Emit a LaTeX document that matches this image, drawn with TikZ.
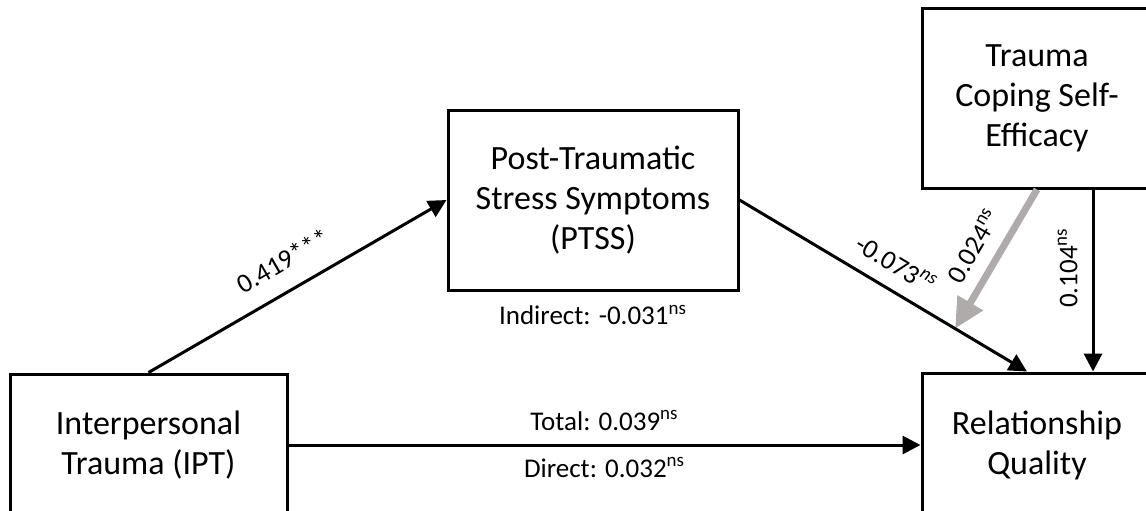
\documentclass[tikz,border=0pt]{standalone}
\usepackage{fontspec}
\setmainfont{Carlito}
\usetikzlibrary{
    positioning,
    arrows.meta
}
\definecolor{modgray}{RGB}{175,171,171}
\tikzset{%
    construct/.style={%
        rectangle,
        draw,
        line width=1.5pt,
        align=center,
        inner sep=2pt,
        font=\fontsize{17pt}{20pt}\selectfont
    },
    path coefficient/.style={%
        font=\fontsize{13.5pt}{16pt}\selectfont,
        inner sep=2pt
    },
    arrow/.style={%
        line width=1.5pt,
        >={Triangle[length=9pt, width=9pt]},
    },
    moderation/.style={%
        line width=3.5pt,
        draw=modgray,
        >={Triangle[length=15pt, width=14pt]},
    },
}

\begin{document}
\begin{tikzpicture}[x=0.5pt, y=-0.5pt]
    \useasboundingbox (0,0) rectangle (1146,510);
    \clip (0,0) rectangle (1146,510);

    \node[construct, minimum width=138.5pt, minimum height=71pt] (IPT) at (148.5,445) {Interpersonal\\Trauma (IPT)};
    \node[construct, minimum width=145pt, minimum height=90pt] (PTSS) at (593,200) {Post-Traumatic\\Stress Symptoms\\(PTSS)};
    \node[construct, minimum width=115pt, minimum height=90pt] (TCSE) at (1037,98) {Trauma\\Coping Self-\\Efficacy};
    \node[construct, minimum width=115pt, minimum height=72pt] (RQ) at (1037,445) {Relationship\\Quality};

    \node[path coefficient, below=4.5pt of PTSS] (indirect) {Indirect: -0.031\textsuperscript{ns}};

    \path (PTSS.east) -- coordinate[pos=0.75] (moderated) ([xshift=-5pt]RQ.north);

    \draw (TCSE.south) edge[moderation, ->] node[path coefficient, sloped, above=4.5pt] {0.024\textsuperscript{ns}} (moderated);

    \draw (IPT.north) edge[arrow, ->] node[path coefficient, sloped, above=7pt] {0.419***} (PTSS.west);
    \draw (PTSS.east) edge[arrow, ->] node[path coefficient, sloped, above=5pt] {-0.073\textsuperscript{\itshape ns}} ([xshift=-5pt]RQ.north);
    \draw ([xshift=28pt]RQ.north) edge[arrow, <-] node[path coefficient, sloped, above=5pt, pos=0.57] {0.104\textsuperscript{ns}} ([xshift=28pt]TCSE.south);
    \draw (IPT.east) edge[arrow, ->]
        node[path coefficient, above=4.5pt] {Total: 0.039\textsuperscript{ns}}
        node[path coefficient, below=3.5pt] {Direct: 0.032\textsuperscript{ns}} (RQ.west);
\end{tikzpicture}
\end{document}
